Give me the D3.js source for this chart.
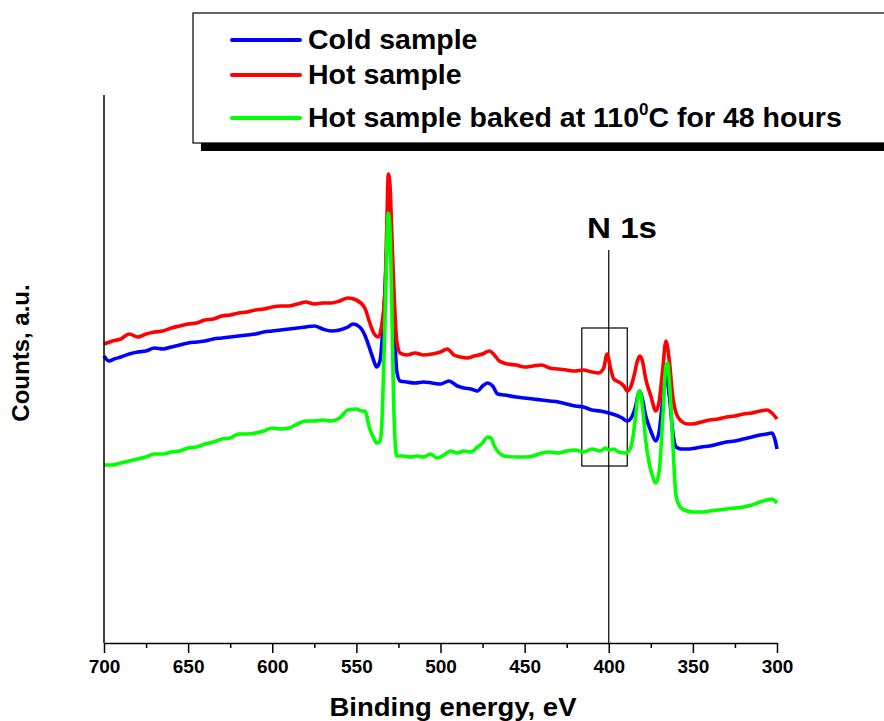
<!DOCTYPE html>
<meta charset="utf-8">
<head>
    <style>
        body { margin: 0; background: #fff; }
        text { font-family: "Liberation Sans", Arial, sans-serif; font-weight: bold; }
        .line { fill: none; stroke-width: 3.6px; stroke-linejoin: round; }
    </style>
</head>
<body>
<script src="https://cdn.jsdelivr.net/npm/d3@7"></script>
<script>
    // XPS survey spectra, [binding energy eV, counts a.u.]
    var coldSample = [
        [700, 287], [697, 282], [694, 284], [690, 286], [685, 289], [680, 291], [675, 292], [670, 295],
        [665, 294], [660, 296], [655, 298], [650, 300], [645, 301], [640, 302], [635, 304], [630, 305],
        [625, 306], [620, 307], [615, 308], [610, 309], [605, 311], [600, 312], [595, 313], [590, 314],
        [585, 315], [580, 316], [575, 317], [570, 314], [565, 312], [560, 313], [555, 316], [552, 319],
        [548, 316], [545, 308], [542, 294], [540, 284], [538, 276], [536, 282], [534, 322], [532, 392],
        [531, 437], [530, 427], [529, 382], [528, 342], [526, 272], [524, 262], [520, 261], [515, 260],
        [510, 261], [505, 260], [500, 259], [495, 262], [490, 257], [486, 255], [482, 254], [478, 252],
        [475, 257], [472, 260], [469, 257], [466, 249], [462, 248], [455, 246], [450, 245], [445, 244],
        [440, 243], [435, 242], [430, 241], [425, 239], [420, 237], [415, 236], [410, 233], [405, 232],
        [400, 230], [396, 228], [392, 225], [389, 222], [386, 227], [384, 237], [382.5, 249], [381.5, 252],
        [380, 244], [378, 227], [375, 212], [372, 202], [370, 212], [368, 242], [366, 267], [364, 247],
        [362, 212], [360, 196], [357, 194], [352, 194], [348, 195], [345, 196], [340, 197], [335, 199],
        [330, 201], [325, 202], [320, 204], [315, 206], [310, 208], [306, 209], [303, 210], [301, 202],
        [300, 194]
    ];
    var hotSample = [
        [700, 299], [695, 302], [690, 304], [685, 309], [680, 306], [675, 309], [670, 311], [665, 312],
        [660, 315], [655, 317], [650, 319], [645, 320], [640, 323], [635, 324], [630, 327], [625, 328],
        [620, 330], [615, 331], [610, 333], [605, 334], [600, 336], [595, 337], [590, 337], [585, 339],
        [580, 341], [575, 339], [570, 340], [565, 340], [560, 342], [555, 345], [550, 343], [545, 335],
        [542, 320], [540, 311], [537, 306], [535, 317], [533, 352], [532, 412], [531, 469], [530, 457],
        [529, 412], [528, 367], [526, 302], [524, 290], [520, 288], [515, 290], [510, 288], [505, 289],
        [500, 291], [496, 294], [492, 288], [488, 286], [484, 285], [480, 287], [475, 289], [471, 292],
        [468, 288], [465, 282], [460, 279], [455, 278], [450, 276], [445, 277], [440, 278], [435, 275],
        [430, 274], [425, 273], [420, 272], [415, 273], [410, 271], [406, 270], [403, 275], [401, 289],
        [399, 275], [397, 264], [394, 261], [391, 257], [389, 252], [387, 256], [385, 267], [383, 282],
        [381.5, 287], [380, 282], [378, 264], [375, 247], [372, 232], [370, 242], [368, 272], [366, 302],
        [364, 282], [362, 247], [360, 230], [357, 222], [353, 219], [350, 219], [345, 221], [340, 223],
        [335, 224], [330, 226], [325, 227], [320, 229], [315, 230], [310, 232], [306, 233], [303, 230],
        [300, 224]
    ];
    var bakedSample = [
        [700, 178], [695, 178], [690, 180], [685, 182], [680, 184], [675, 186], [670, 189], [665, 189],
        [660, 191], [655, 192], [650, 195], [645, 196], [640, 199], [635, 201], [630, 204], [625, 205],
        [620, 209], [615, 209], [610, 210], [605, 212], [600, 215], [595, 214], [590, 215], [585, 219],
        [580, 222], [575, 222], [570, 223], [565, 222], [560, 225], [555, 233], [550, 234], [547, 232],
        [545, 232], [542, 214], [540, 206], [538, 200], [536, 202], [535, 215], [534, 262], [533, 322],
        [532, 392], [531, 430], [530, 412], [529, 342], [528, 252], [527, 202], [526, 187], [522, 187],
        [518, 186], [514, 187], [510, 186], [506, 189], [502, 185], [498, 188], [494, 192], [490, 190],
        [486, 192], [482, 191], [478, 196], [475, 200], [472, 206], [470, 205], [468, 197], [465, 190],
        [462, 187], [455, 186], [450, 186], [445, 187], [440, 190], [435, 191], [430, 190], [425, 192],
        [420, 193], [415, 191], [410, 194], [405, 192], [402, 195], [400, 193], [397, 194], [394, 191],
        [390, 190], [388, 192], [386, 202], [384, 227], [382.5, 249], [381.5, 252], [380, 237], [378, 202],
        [376, 180], [374, 167], [372, 160], [370, 172], [368, 222], [366, 277], [365, 280], [364, 262],
        [362, 202], [360, 147], [358, 137], [355, 133], [350, 131], [345, 131], [340, 132], [335, 133],
        [330, 134], [325, 135], [320, 136], [315, 138], [310, 141], [306, 143], [303, 144], [300, 140]
    ];
    var majorTicks = [700, 650, 600, 550, 500, 450, 400, 350, 300];
    var minorTicks = [675, 625, 575, 525, 475, 425, 375, 325];

    // N 1s marker: line energy, box energy span and counts span
    var n1sEnergy = 400;
    var n1sBox = { from: 416, to: 389, low: 177, high: 315 };

    var series = [
        { name: "Cold sample", color: "#0000ff", data: coldSample },
        { name: "Hot sample", color: "#ff0000", data: hotSample },
        { name: "Hot sample baked at 110", sup: "0", tail: "C for 48 hours", color: "#00ff00", data: bakedSample }
    ];

    var W = 884, H = 721;
    var plot = { left: 104, right: 777, top: 95, bottom: 643 };

    var svg = d3.select("body").append("svg")
        .attr("width", W)
        .attr("height", H);

    var x = d3.scaleLinear().domain([700, 300]).range([plot.left, plot.right]);
    var y = d3.scaleLinear().domain([0, 548]).range([plot.bottom, plot.top]);

    var line = d3.line()
        .x(function(d) { return x(d[0]); })
        .y(function(d) { return y(d[1]); })
        .curve(d3.curveMonotoneX);

    // N 1s annotation
    svg.append("line")
        .attr("x1", x(n1sEnergy)).attr("x2", x(n1sEnergy))
        .attr("y1", 250).attr("y2", plot.bottom)
        .attr("stroke", "#000").attr("stroke-width", 1.2);
    svg.append("rect")
        .attr("x", x(n1sBox.from))
        .attr("y", y(n1sBox.high))
        .attr("width", x(n1sBox.to) - x(n1sBox.from))
        .attr("height", y(n1sBox.low) - y(n1sBox.high))
        .attr("fill", "none").attr("stroke", "#000").attr("stroke-width", 1.2);
    svg.append("text")
        .attr("x", 622).attr("y", 238)
        .attr("text-anchor", "middle")
        .style("font-size", "29px")
        .attr("textLength", 70)
        .attr("lengthAdjust", "spacingAndGlyphs")
        .text("N 1s");

    series.forEach(function(s) {
        svg.append("path")
            .datum(s.data)
            .attr("class", "line")
            .style("stroke", s.color)
            .attr("d", line);
    });

    // axes
    svg.append("line")
        .attr("x1", plot.left).attr("x2", plot.left)
        .attr("y1", plot.top).attr("y2", plot.bottom)
        .attr("stroke", "#000").attr("stroke-width", 1.5);

    var xAxis = svg.append("g")
        .attr("transform", "translate(0," + plot.bottom + ")")
        .call(d3.axisBottom(x).tickValues(majorTicks).tickSize(10).tickPadding(7).tickSizeOuter(0)
            .tickFormat(d3.format("d")));
    xAxis.select(".domain").attr("stroke-width", 1.5);
    xAxis.selectAll(".tick line").attr("stroke-width", 1.5);
    xAxis.selectAll("text")
        .style("font-size", "19px")
        .style("font-family", "'Liberation Sans', Arial, sans-serif")
        .style("font-weight", "bold")
        .attr("fill", "#000");

    var xMinor = svg.append("g")
        .attr("transform", "translate(0," + plot.bottom + ")")
        .call(d3.axisBottom(x).tickValues(minorTicks).tickSize(5).tickFormat(""));
    xMinor.select(".domain").remove();
    xMinor.selectAll(".tick line").attr("stroke-width", 1.5);

    svg.append("text")
        .attr("x", 453)
        .attr("y", 716)
        .attr("text-anchor", "middle")
        .style("font-size", "26px")
        .attr("textLength", 247)
        .attr("lengthAdjust", "spacingAndGlyphs")
        .text("Binding energy, eV");

    svg.append("text")
        .attr("transform", "translate(29,353) rotate(-90)")
        .attr("text-anchor", "middle")
        .style("font-size", "24px")
        .text("Counts, a.u.");

    // legend with drop shadow
    var legend = svg.append("g");
    legend.append("rect")
        .attr("x", 201).attr("y", 21)
        .attr("width", 720).attr("height", 130)
        .attr("fill", "#000");
    legend.append("rect")
        .attr("x", 193).attr("y", 13)
        .attr("width", 720).attr("height", 130)
        .attr("fill", "#fff").attr("stroke", "#000").attr("stroke-width", 1.2);

    var rowY = [40, 75, 118];
    series.forEach(function(s, i) {
        legend.append("line")
            .attr("x1", 232).attr("x2", 300)
            .attr("y1", rowY[i]).attr("y2", rowY[i])
            .attr("stroke", s.color).attr("stroke-width", 4)
            .attr("stroke-linecap", "round");
        var t = legend.append("text")
            .attr("x", 308).attr("y", rowY[i] + 9)
            .style("font-size", "28.5px")
            .text(s.name);
        if (s.sup) {
            t.append("tspan").attr("dy", -12).style("font-size", "17px").text(s.sup);
            t.append("tspan").attr("dy", 12).text(s.tail);
        }
    });
</script>
</body>
